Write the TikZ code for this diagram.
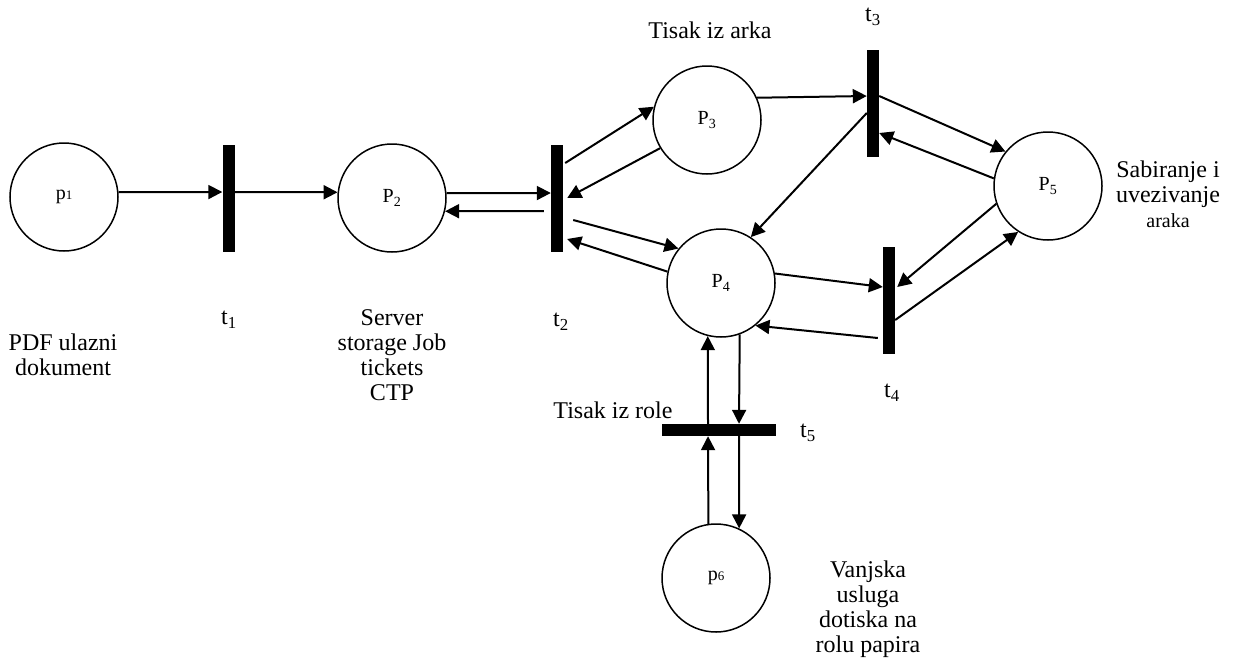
\documentclass[tikz,border=0pt]{standalone}
\usepackage{fontspec}
\setmainfont{Liberation Serif}
\usetikzlibrary{arrows.meta,calc}
\begin{document}
\begin{tikzpicture}[x=1pt,y=-1pt,
  place/.style={circle,draw,line width=1.5pt,minimum size=108pt,inner sep=0pt,font=\fontsize{20}{22}\selectfont},
  trans/.style={fill=black,draw=none,inner sep=0pt,minimum width=12pt,minimum height=107pt},
  htrans/.style={fill=black,draw=none,inner sep=0pt,minimum width=114pt,minimum height=12pt},
  arc/.style={line width=2pt,-{Triangle[length=14pt,width=14pt]}},
  lbl/.style={font=\fontsize{24}{25}\selectfont,align=center,inner sep=0pt}]
\useasboundingbox (0,0) rectangle (1238,664);

\node[place] (p1) at (64,197) {p{\fontsize{13}{13}\selectfont 1}};
\node[trans] (t1) at (228.5,198) {};
\node[place] (p2) at (392,198) {P\textsubscript{2}};
\node[trans] (t2) at (557,198) {};
\node[place] (p3) at (707,120) {P\textsubscript{3}};
\node[trans] (t3) at (873,103.5) {};
\node[place] (p4) at (721,283) {P\textsubscript{4}};
\node[trans] (t4) at (889,300.5) {};
\node[place] (p5) at (1048,186) {P\textsubscript{5}};
\node[htrans] (t5) at (719,430) {};
\node[place] (p6) at (716,578) {p{\fontsize{13}{13}\selectfont 6}};

\draw[arc] (p1.5) -- ([yshift=6pt]t1.west);
\draw[arc] ([yshift=6pt]t1.east) -- (p2.174);
\draw[arc] (p2.5) -- ([yshift=5pt]t2.west);
\draw[arc] ([xshift=-7pt,yshift=-13pt]t2.west) -- (p2.346);
\draw[arc] ([xshift=2pt,yshift=35pt]t2.east) -- (p3.166);
\draw[arc] (p3.211) -- ([xshift=4pt]t2.east);
\draw[arc] ([xshift=10pt,yshift=-22pt]t2.east) -- (p4.141);
\draw[arc] (p4.168) -- ([xshift=4pt,yshift=-41pt]t2.east);
\draw[arc] (p3.24) -- ([yshift=7.5pt]t3.west);
\draw[arc] ([yshift=7.5pt]t3.east) -- (p5.141);
\draw[arc] (p5.172) -- ([yshift=-29.5pt]t3.east);
\draw[arc] ([yshift=-9.5pt]t3.west) -- (p4.57);
\draw[arc] (p4.10) -- ([yshift=13.5pt]t4.west);
\draw[arc] (p5.199) -- ([xshift=2pt,yshift=13.5pt]t4.east);
\draw[arc] ([yshift=-19.5pt]t4.east) -- (p5.237);
\draw[arc] ([xshift=-5pt,yshift=-37.5pt]t4.west) -- (p4.309);
\draw[arc] ([xshift=-11pt]t5.north) -- (p4.256);
\draw[arc] (p4.290) -- ([xshift=20pt]t5.north);
\draw[arc] (p6.98) -- ([xshift=-11pt]t5.south);
\draw[arc] ([xshift=20pt]t5.south) -- (p6.65);

\node[lbl] (lt1) at (229,320) {t\textsubscript{1}};
\node[lbl] (lt2) at (561,322) {t\textsubscript{2}};
\node[lbl] (lt3) at (873,17) {t\textsubscript{3}};
\node[lbl] (lt4) at (892,393) {t\textsubscript{4}};
\node[lbl] (lt5) at (808,433) {t\textsubscript{5}};
\node[lbl] (la) at (710,30) {Tisak iz arka};
\node[lbl] (lr) at (613,410) {Tisak iz role};
\node[lbl] (lp1) at (63,355) {PDF ulazni\\dokument};
\node[lbl] (lp2) at (392,355) {Server\\storage Job\\tickets\\CTP};
\node[lbl] (lp5) at (1168,194) {Sabiranje i\\uvezivanje\\{\fontsize{20}{25}\selectfont araka}};
\node[lbl] (lp6) at (868,609) {Vanjska\\usluga\\dotiska na\\rolu papira};
\end{tikzpicture}
\end{document}
